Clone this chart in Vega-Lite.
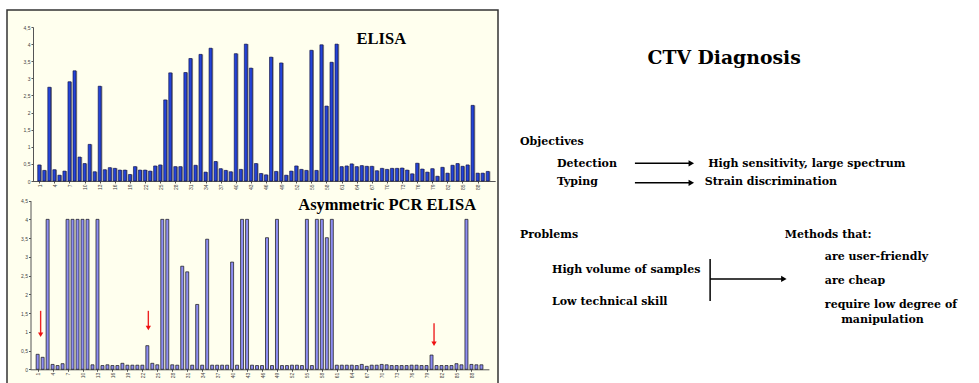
{
  "$schema": "https://vega.github.io/schema/vega-lite/v6.json",
  "padding": {"left": 6, "top": 9, "right": 0, "bottom": 0},
  "background": "white",
  "spacing": 0,
  "config": {
    "font": "'Liberation Serif', 'DejaVu Serif', serif",
    "view": {"stroke": null},
    "axis": {"grid": false, "title": null, "labelFont": "Liberation Sans", "labelFontSize": 5, "labelColor": "#444444", "domainColor": "#555555", "tickColor": "#555555", "tickSize": 2, "labelPadding": 1},
    "text": {"font": "'Liberation Serif', 'DejaVu Serif', serif", "fontWeight": "bold", "fontSize": 14, "align": "left", "baseline": "middle", "color": "black"}
  },
  "datasets": {
    "elisa": [
      {"sample": 1, "od": 0.47}, {"sample": 2, "od": 0.31}, {"sample": 3, "od": 2.74}, {"sample": 4, "od": 0.33}, {"sample": 5, "od": 0.17},
      {"sample": 6, "od": 0.29}, {"sample": 7, "od": 2.9}, {"sample": 8, "od": 3.22}, {"sample": 9, "od": 0.7}, {"sample": 10, "od": 0.51},
      {"sample": 11, "od": 1.07}, {"sample": 12, "od": 0.27}, {"sample": 13, "od": 2.77}, {"sample": 14, "od": 0.33}, {"sample": 15, "od": 0.39},
      {"sample": 16, "od": 0.37}, {"sample": 17, "od": 0.32}, {"sample": 18, "od": 0.32}, {"sample": 19, "od": 0.19}, {"sample": 20, "od": 0.42},
      {"sample": 21, "od": 0.32}, {"sample": 22, "od": 0.32}, {"sample": 23, "od": 0.29}, {"sample": 24, "od": 0.44}, {"sample": 25, "od": 0.47},
      {"sample": 26, "od": 2.37}, {"sample": 27, "od": 3.16}, {"sample": 28, "od": 0.42}, {"sample": 29, "od": 0.42}, {"sample": 30, "od": 3.17},
      {"sample": 31, "od": 3.58}, {"sample": 32, "od": 0.46}, {"sample": 33, "od": 3.7}, {"sample": 34, "od": 0.26}, {"sample": 35, "od": 3.88},
      {"sample": 36, "od": 0.57}, {"sample": 37, "od": 0.36}, {"sample": 38, "od": 0.31}, {"sample": 39, "od": 0.27}, {"sample": 40, "od": 3.72},
      {"sample": 41, "od": 0.34}, {"sample": 42, "od": 4.0}, {"sample": 43, "od": 3.3}, {"sample": 44, "od": 0.51}, {"sample": 45, "od": 0.22},
      {"sample": 46, "od": 0.18}, {"sample": 47, "od": 3.62}, {"sample": 48, "od": 0.28}, {"sample": 49, "od": 3.45}, {"sample": 50, "od": 0.17},
      {"sample": 51, "od": 0.29}, {"sample": 52, "od": 0.44}, {"sample": 53, "od": 0.34}, {"sample": 54, "od": 0.31}, {"sample": 55, "od": 3.82},
      {"sample": 56, "od": 0.31}, {"sample": 57, "od": 3.98}, {"sample": 58, "od": 2.19}, {"sample": 59, "od": 3.47}, {"sample": 60, "od": 4.0},
      {"sample": 61, "od": 0.42}, {"sample": 62, "od": 0.44}, {"sample": 63, "od": 0.5}, {"sample": 64, "od": 0.42}, {"sample": 65, "od": 0.45},
      {"sample": 66, "od": 0.43}, {"sample": 67, "od": 0.43}, {"sample": 68, "od": 0.3}, {"sample": 69, "od": 0.37}, {"sample": 70, "od": 0.34},
      {"sample": 71, "od": 0.37}, {"sample": 72, "od": 0.37}, {"sample": 73, "od": 0.38}, {"sample": 74, "od": 0.32}, {"sample": 75, "od": 0.21},
      {"sample": 76, "od": 0.52}, {"sample": 77, "od": 0.35}, {"sample": 78, "od": 0.26}, {"sample": 79, "od": 0.36}, {"sample": 80, "od": 0.14},
      {"sample": 81, "od": 0.4}, {"sample": 82, "od": 0.23}, {"sample": 83, "od": 0.46}, {"sample": 84, "od": 0.51}, {"sample": 85, "od": 0.43},
      {"sample": 86, "od": 0.47}, {"sample": 87, "od": 2.21}, {"sample": 88, "od": 0.23}, {"sample": 89, "od": 0.23}, {"sample": 90, "od": 0.28}
    ],
    "pcr": [
      {"sample": 1, "od": 0.4}, {"sample": 2, "od": 0.32}, {"sample": 3, "od": 4}, {"sample": 4, "od": 0.13}, {"sample": 5, "od": 0.1},
      {"sample": 6, "od": 0.15}, {"sample": 7, "od": 4}, {"sample": 8, "od": 4}, {"sample": 9, "od": 4}, {"sample": 10, "od": 4},
      {"sample": 11, "od": 4}, {"sample": 12, "od": 0.12}, {"sample": 13, "od": 4}, {"sample": 14, "od": 0.1}, {"sample": 15, "od": 0.12},
      {"sample": 16, "od": 0.1}, {"sample": 17, "od": 0.1}, {"sample": 18, "od": 0.16}, {"sample": 19, "od": 0.11}, {"sample": 20, "od": 0.11},
      {"sample": 21, "od": 0.11}, {"sample": 22, "od": 0.11}, {"sample": 23, "od": 0.63}, {"sample": 24, "od": 0.16}, {"sample": 25, "od": 0.12},
      {"sample": 26, "od": 4}, {"sample": 27, "od": 4}, {"sample": 28, "od": 0.12}, {"sample": 29, "od": 0.11}, {"sample": 30, "od": 2.75},
      {"sample": 31, "od": 2.6}, {"sample": 32, "od": 0.11}, {"sample": 33, "od": 1.73}, {"sample": 34, "od": 0.11}, {"sample": 35, "od": 3.47},
      {"sample": 36, "od": 0.11}, {"sample": 37, "od": 0.11}, {"sample": 38, "od": 0.11}, {"sample": 39, "od": 0.11}, {"sample": 40, "od": 2.86},
      {"sample": 41, "od": 0.11}, {"sample": 42, "od": 4}, {"sample": 43, "od": 4}, {"sample": 44, "od": 0.11}, {"sample": 45, "od": 0.1},
      {"sample": 46, "od": 0.1}, {"sample": 47, "od": 3.51}, {"sample": 48, "od": 0.1}, {"sample": 49, "od": 4}, {"sample": 50, "od": 0.1},
      {"sample": 51, "od": 0.1}, {"sample": 52, "od": 0.11}, {"sample": 53, "od": 0.11}, {"sample": 54, "od": 0.1}, {"sample": 55, "od": 4},
      {"sample": 56, "od": 0.1}, {"sample": 57, "od": 4}, {"sample": 58, "od": 4}, {"sample": 59, "od": 3.51}, {"sample": 60, "od": 4},
      {"sample": 61, "od": 0.11}, {"sample": 62, "od": 0.11}, {"sample": 63, "od": 0.11}, {"sample": 64, "od": 0.11}, {"sample": 65, "od": 0.1},
      {"sample": 66, "od": 0.13}, {"sample": 67, "od": 0.08}, {"sample": 68, "od": 0.11}, {"sample": 69, "od": 0.11}, {"sample": 70, "od": 0.13},
      {"sample": 71, "od": 0.12}, {"sample": 72, "od": 0.1}, {"sample": 73, "od": 0.1}, {"sample": 74, "od": 0.1}, {"sample": 75, "od": 0.1},
      {"sample": 76, "od": 0.11}, {"sample": 77, "od": 0.11}, {"sample": 78, "od": 0.1}, {"sample": 79, "od": 0.1}, {"sample": 80, "od": 0.38},
      {"sample": 81, "od": 0.1}, {"sample": 82, "od": 0.1}, {"sample": 83, "od": 0.1}, {"sample": 84, "od": 0.1}, {"sample": 85, "od": 0.15},
      {"sample": 86, "od": 0.12}, {"sample": 87, "od": 4}, {"sample": 88, "od": 0.13}, {"sample": 89, "od": 0.12}, {"sample": 90, "od": 0.12}
    ],
    "marked": [
      {"sample": 1.6, "from": 1.56, "to": 0.92},
      {"sample": 23.2, "from": 1.56, "to": 1.1},
      {"sample": 80.5, "from": 1.23, "to": 0.68}
    ],
    "elisaTitle": [{"sample": 68.9, "od": 4.15, "label": "ELISA"}],
    "pcrTitle": [{"sample": 71.1, "od": 4.38, "label": "Asymmetric PCR ELISA"}],
    "heading": [{"h": 46.7, "v": 12.8, "label": "CTV Diagnosis"}],
    "notes": [
      {"h": 4.36, "v": 35.3, "label": "Objectives"},
      {"h": 12.03, "v": 41.2, "label": "Detection"},
      {"h": 43.4, "v": 41.2, "label": "High sensitivity, large spectrum"},
      {"h": 12.03, "v": 46.0, "label": "Typing"},
      {"h": 42.7, "v": 46.0, "label": "Strain discrimination"},
      {"h": 4.36, "v": 60.2, "label": "Problems"},
      {"h": 59.3, "v": 60.2, "label": "Methods that:"},
      {"h": 11.0, "v": 69.6, "label": "High volume of samples"},
      {"h": 11.0, "v": 78.0, "label": "Low technical skill"},
      {"h": 67.6, "v": 66.0, "label": "are user-friendly"},
      {"h": 67.6, "v": 72.5, "label": "are cheap"},
      {"h": 67.6, "v": 78.9, "label": "require low degree of"},
      {"h": 71.0, "v": 82.8, "label": "manipulation"}
    ],
    "links": [
      {"h": 28.2, "h2": 39.9, "v": 41.0},
      {"h": 28.2, "h2": 39.9, "v": 46.2},
      {"h": 43.8, "h2": 59.1, "v": 71.9}
    ],
    "bracket": [{"h": 43.8, "v": 66.6, "v2": 77.8}]
  },
  "hconcat": [
    {
      "width": 491,
      "height": 376,
      "view": {"fill": "#FFFFEE", "stroke": "#333333", "strokeWidth": 1.5},
      "layer": [
        {
          "encoding": {
            "x": {"field": "sample", "type": "quantitative",
                  "scale": {"domain": [0.5, 90.5], "range": [24.7, 488.2], "nice": false, "zero": false},
                  "axis": {"orient": "bottom", "offset": -205, "values": [1,4,7,10,13,16,19,22,25,28,31,34,37,40,43,46,49,52,55,58,61,64,67,70,73,76,79,82,85,88], "labelAngle": -90, "labelAlign": "right", "labelBaseline": "middle", "title": null}},
            "y": {"field": "od", "type": "quantitative",
                  "scale": {"domain": [0, 4.5], "range": [171, 17], "nice": false},
                  "axis": {"orient": "left", "offset": -26, "values": [0,0.5,1,1.5,2,2.5,3,3.5,4,4.5], "labelExpr": "datum.value % 1 == 0 ? format(datum.value, 'd') : replace(format(datum.value, '.1f'), '.', ',')", "title": null}}
          },
          "layer": [
            {"data": {"name": "elisa"}, "mark": {"type": "bar", "width": 3, "xOffset": 1.2, "fill": "#8f8f8f", "stroke": null}},
            {"data": {"name": "elisa"}, "mark": {"type": "bar", "width": 3, "fill": "#2444d8", "stroke": "#0b0b3a", "strokeWidth": 0.6}},
            {
              "data": {"name": "elisaTitle"},
              "mark": {"type": "text", "align": "center", "baseline": "middle", "fontWeight": "bold", "fontSize": 16.5, "color": "black"},
              "encoding": {"text": {"field": "label"}}
            }
          ]
        },
        {
          "encoding": {
            "x": {"field": "sample", "type": "quantitative",
                  "scale": {"domain": [0.5, 90.5], "range": [23.15, 481.9], "nice": false, "zero": false},
                  "axis": {"orient": "bottom", "offset": -16.7, "values": [1,4,7,10,13,16,19,22,25,28,31,34,37,40,43,46,49,52,55,58,61,64,67,70,73,76,79,82,85,88], "labelAngle": -90, "labelAlign": "right", "labelBaseline": "middle", "title": null}},
            "y": {"field": "od", "type": "quantitative",
                  "scale": {"domain": [0, 4.5], "range": [359.3, 190.6], "nice": false},
                  "axis": {"orient": "left", "offset": -23.5, "values": [0,0.5,1,1.5,2,2.5,3,3.5,4,4.5], "labelExpr": "datum.value % 1 == 0 ? format(datum.value, 'd') : replace(format(datum.value, '.1f'), '.', ',')", "title": null}}
          },
          "layer": [
            {"data": {"name": "pcr"}, "mark": {"type": "bar", "width": 3, "fill": "#8e8ef2", "stroke": "#111111", "strokeWidth": 0.7}},
            {
              "data": {"name": "marked"},
              "mark": {"type": "rule", "color": "#ee2222", "strokeWidth": 1.4},
              "encoding": {
                "y": {"field": "from", "type": "quantitative"},
                "y2": {"field": "to"}
              }
            },
            {
              "data": {"name": "marked"},
              "mark": {"type": "point", "shape": "triangle-down", "filled": true, "color": "#ee1111", "size": 28, "opacity": 1},
              "encoding": {
                "y": {"field": "to", "type": "quantitative"}
              }
            },
            {
              "data": {"name": "pcrTitle"},
              "mark": {"type": "text", "align": "center", "baseline": "middle", "fontWeight": "bold", "fontSize": 16.5, "color": "black"},
              "encoding": {"text": {"field": "label"}}
            }
          ]
        }
      ],
      "resolve": {"scale": {"x": "independent", "y": "independent"}, "axis": {"x": "independent", "y": "independent"}}
    },
    {
      "width": 482,
      "height": 374,
      "encoding": {
        "x": {"field": "h", "type": "quantitative", "scale": {"domain": [0, 100], "nice": false, "zero": false}, "axis": null},
        "y": {"field": "v", "type": "quantitative", "scale": {"domain": [0, 100], "reverse": true, "nice": false, "zero": false}, "axis": null}
      },
      "layer": [
        {
          "data": {"name": "heading"},
          "mark": {"type": "text", "align": "center", "baseline": "middle", "font": "DejaVu Serif", "fontWeight": "bold", "fontSize": 18.8, "color": "black"},
          "encoding": {"text": {"field": "label"}}
        },
        {
          "data": {"name": "notes"},
          "mark": {"type": "text", "align": "left", "baseline": "middle", "font": "DejaVu Serif", "fontWeight": "bold", "fontSize": 11, "color": "black"},
          "encoding": {"text": {"field": "label"}}
        },
        {
          "data": {"name": "links"},
          "mark": {"type": "rule", "color": "black", "strokeWidth": 1.5},
          "encoding": {"x2": {"field": "h2"}}
        },
        {
          "data": {"name": "links"},
          "mark": {"type": "point", "shape": "triangle-right", "filled": true, "color": "black", "size": 40, "opacity": 1},
          "encoding": {"x": {"field": "h2", "type": "quantitative"}}
        },
        {
          "data": {"name": "bracket"},
          "mark": {"type": "rule", "color": "black", "strokeWidth": 1.5},
          "encoding": {"y2": {"field": "v2"}}
        }
      ]
    }
  ]
}
